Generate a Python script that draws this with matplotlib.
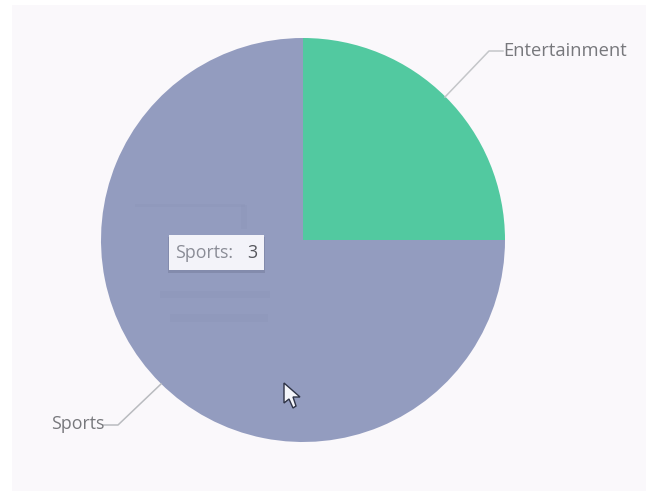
import matplotlib
matplotlib.use("Agg")
import matplotlib.pyplot as plt
from matplotlib.patches import Rectangle, Polygon

categories = ["Entertainment", "Sports"]
values = [1, 3]
colors = ["#52c9a0", "#939cbf"]

plt.rcParams['font.family'] = ['Open Sans', 'DejaVu Sans']

fig = plt.figure(figsize=(6.46, 4.91), dpi=100, facecolor="white")
ax = fig.add_axes([0, 0, 1, 1])
ax.set_xlim(0, 646)
ax.set_ylim(491, 0)
ax.axis('off')

# page panel behind the chart
ax.add_patch(Rectangle((12, 5), 634, 486, fc="#faf8fb", ec="none", zorder=0))

# pie axes, square and centred on the panel
pie_ax = fig.add_axes([101 / 646, 1 - 442 / 491, 404 / 646, 404 / 491])
pie_ax.pie(values, colors=colors, startangle=90, counterclock=False, radius=1.0,
           wedgeprops=dict(linewidth=0))
pie_ax.set_xlim(-1, 1)
pie_ax.set_ylim(-1, 1)

# overlay axes for labels and tooltip
top = fig.add_axes([0, 0, 1, 1])
top.set_xlim(0, 646)
top.set_ylim(491, 0)
top.axis('off')
top.patch.set_alpha(0)

# leader lines
top.plot([445, 489, 503], [97, 51, 51], color="#c4c6c9", lw=1.1)
top.plot([161, 118, 103], [384, 425, 425], color="#b9bbbf", lw=1.1)
top.text(503, 51, categories[0], color="#77787c", fontsize=13.2, va="center", ha="left")
top.text(51, 424, categories[1], color="#77787c", fontsize=12.8, va="center", ha="left")

# blurred page content showing through the slice
for x, y, w, h in [(160, 291, 110, 7), (170, 314, 98, 8), (241, 205, 6, 24), (135, 204, 110, 3)]:
    top.add_patch(Rectangle((x, y), w, h, fc="#868fb2", ec="none", alpha=0.2))

# tooltip
top.add_patch(Rectangle((168, 237), 97, 36, fc="#7f87a8", ec="none", alpha=0.8))
top.add_patch(Rectangle((169, 235), 95, 35, fc="#f3f3f9", ec="none"))
top.text(175, 253, f"{categories[1]}:", color="#8a8c96", fontsize=12.8, va="center", ha="left")
top.text(247, 253, str(values[1]), color="#55565c", fontsize=12.8, va="center", ha="left")

# mouse cursor
top.add_patch(Polygon([(284, 383), (284, 403), (289, 399), (293, 408), (296, 406),
                       (293, 397), (300, 397)], closed=True, fc="#f4f5fa", ec="#2e3346", lw=1.0))

fig.savefig("out.png", dpi=100)
